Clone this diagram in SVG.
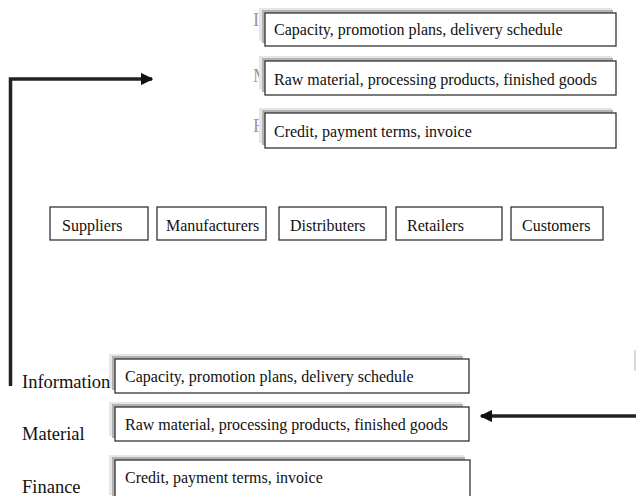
<svg xmlns="http://www.w3.org/2000/svg" width="636" height="496" viewBox="0 0 636 496">
<defs>
<style>
.box{fill:#fff;stroke:#333;stroke-width:1.3}
.sh1{fill:#e6e6e6}
.sh2{fill:#b3b3b3}
.t{font-family:"Liberation Serif","Times New Roman",serif;font-size:16px;fill:#111}
.lbl{font-family:"Liberation Serif","Times New Roman",serif;font-size:18.5px;fill:#111}
.ghost{font-family:"Liberation Serif","Times New Roman",serif;font-size:18.5px;fill:#999}
.arr{fill:none;stroke:#222;stroke-width:3.5}
</style>
<marker id="ah" viewBox="0 0 10 10" refX="9" refY="5" markerWidth="3.6" markerHeight="3.6" orient="auto" markerUnits="strokeWidth">
<path d="M0,0 L10,5 L0,10 Z" fill="#111"/>
</marker>
</defs>
<rect width="636" height="496" fill="#fff"/>

<!-- top section -->
<g id="top-information">
<text class="ghost" x="253" y="26">I</text>
<rect class="sh1" x="259" y="8" width="353" height="33"/>
<rect class="sh2" x="262" y="10" width="351" height="33"/>
<rect class="box" x="265" y="13" width="351" height="33"/>
<text class="t" x="274" y="35">Capacity, promotion plans, delivery schedule</text>
</g>
<g id="top-material">
<text class="ghost" x="253" y="82">M</text>
<rect class="sh1" x="259" y="56" width="353" height="34"/>
<rect class="sh2" x="262" y="58" width="351" height="34"/>
<rect class="box" x="265" y="61" width="351" height="34"/>
<text class="t" x="274" y="85">Raw material, processing products, finished goods</text>
</g>
<g id="top-finance">
<text class="ghost" x="253" y="132">F</text>
<rect class="sh1" x="259" y="108" width="353" height="35"/>
<rect class="sh2" x="262" y="110" width="351" height="35"/>
<rect class="box" x="265" y="113" width="351" height="35"/>
<text class="t" x="274" y="137">Credit, payment terms, invoice</text>
</g>

<!-- middle row -->
<g id="suppliers">
<rect class="box" x="50" y="207" width="98" height="33"/>
<text class="t" x="62" y="231">Suppliers</text>
</g>
<g id="manufacturers">
<rect class="box" x="157" y="207" width="109" height="33"/>
<text class="t" x="166" y="231">Manufacturers</text>
</g>
<g id="distributers">
<rect class="box" x="279" y="207" width="107" height="33"/>
<text class="t" x="290" y="231">Distributers</text>
</g>
<g id="retailers">
<rect class="box" x="396" y="207" width="106" height="33"/>
<text class="t" x="407" y="231">Retailers</text>
</g>
<g id="customers">
<rect class="box" x="511" y="207" width="92" height="33"/>
<text class="t" x="522" y="231">Customers</text>
</g>

<!-- bottom section -->
<g id="bottom-information">
<rect class="sh1" x="109" y="354" width="353" height="34"/>
<rect class="sh2" x="112" y="356" width="351" height="34"/>
<rect class="box" x="115" y="359" width="354" height="34"/>
<text class="t" x="125" y="382">Capacity, promotion plans, delivery schedule</text>
<text class="lbl" x="22" y="388">Information</text>
</g>
<g id="bottom-material">
<rect class="sh1" x="109" y="402" width="353" height="34"/>
<rect class="sh2" x="112" y="404" width="351" height="34"/>
<rect class="box" x="115" y="407" width="354" height="34"/>
<text class="t" x="125" y="430">Raw material, processing products, finished goods</text>
<text class="lbl" x="22" y="440">Material</text>
</g>
<g id="bottom-finance">
<rect class="sh1" x="109" y="455" width="355" height="40"/>
<rect class="sh2" x="112" y="457" width="353" height="40"/>
<rect class="box" x="115" y="460" width="355" height="40"/>
<text class="t" x="125" y="483">Credit, payment terms, invoice</text>
<text class="lbl" x="22" y="493">Finance</text>
</g>

<!-- connectors -->
<g id="connectors">
<path class="arr" d="M10.5,386 V79 H152" marker-end="url(#ah)" stroke="#333"/>
<path class="arr" d="M636,416 H481" marker-end="url(#ah)"/>
<line x1="635" y1="350" x2="635" y2="371" stroke="#ccc" stroke-width="1.5"/>
</g>
</svg>
